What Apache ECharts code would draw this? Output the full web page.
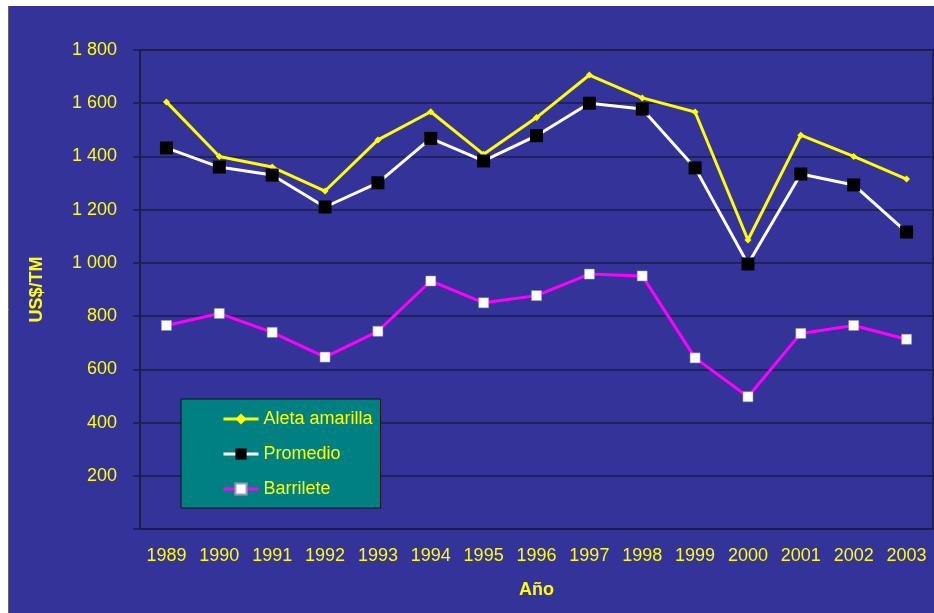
<!DOCTYPE html>
<html>
<head>
<meta charset="utf-8">
<script src="https://cdn.jsdelivr.net/npm/echarts@6/dist/echarts.min.js"></script>
<style>
  html, body { margin: 0; padding: 0; background: #fff; }
  #main { width: 934px; height: 613px; }
</style>
</head>
<body>
<div id="main"></div>
<script>
var years = ['1989', '1990', '1991', '1992', '1993', '1994', '1995', '1996',
             '1997', '1998', '1999', '2000', '2001', '2002', '2003'];
var aletaAmarilla = [1605, 1400, 1360, 1270, 1462, 1568, 1408, 1546, 1706, 1620, 1567, 1086, 1480, 1400, 1315];
var promedio = [1432, 1360, 1330, 1210, 1301, 1468, 1383, 1478, 1600, 1578, 1357, 996, 1334, 1293, 1116];
var barrilete = [765, 810, 739, 646, 743, 932, 850, 877, 958, 951, 643, 497, 735, 765, 713];

var yellow = '#ffff00';
var dark = '#1c1c48';

var myChart = echarts.init(document.getElementById('main'));

var option = {
    backgroundColor: '#ffffff',
    textStyle: { fontFamily: 'Liberation Sans, Arial, sans-serif' },
    graphic: [{
        type: 'rect',
        z: -10,
        shape: { x: 9, y: 6, width: 930, height: 612 },
        style: { fill: '#333399' }
    }, {
        type: 'line',
        z: -9,
        shape: { x1: 8.5, y1: 6, x2: 8.5, y2: 613 },
        style: { stroke: '#666', lineWidth: 1 }
    }],
    grid: {
        left: 140,
        right: 1,
        top: 50,
        bottom: 84,
        show: true,
        borderColor: dark,
        borderWidth: 1.5
    },
    legend: {
        orient: 'vertical',
        left: 181,
        top: 399,
        padding: [11, 8, 10, 41],
        itemGap: 17,
        itemWidth: 35,
        itemHeight: 14,
        backgroundColor: '#008080',
        borderColor: '#111',
        borderWidth: 1,
        lineStyle: { width: 3 },
        textStyle: { color: yellow, fontSize: 18 },
        data: ['Aleta amarilla', 'Promedio', 'Barrilete']
    },
    xAxis: {
        type: 'category',
        data: years,
        boundaryGap: true,
        name: 'Año',
        nameLocation: 'middle',
        nameGap: 52,
        nameTextStyle: { color: yellow, fontSize: 18, fontWeight: 'bold' },
        axisLine: { lineStyle: { color: dark, width: 1.5 } },
        axisTick: { length: 5, alignWithLabel: false, lineStyle: { color: dark, width: 1.5 } },
        axisLabel: { color: yellow, fontSize: 18, margin: 18, interval: 0 }
    },
    yAxis: {
        type: 'value',
        min: 0,
        max: 1800,
        interval: 200,
        name: 'US$/TM',
        nameLocation: 'middle',
        nameGap: 94,
        nameTextStyle: { color: yellow, fontSize: 18, fontWeight: 'bold' },
        axisLine: { show: true, lineStyle: { color: dark, width: 1.5 } },
        axisTick: { show: true, length: 7, lineStyle: { color: dark, width: 1.5 } },
        axisLabel: {
            color: yellow,
            fontSize: 18,
            margin: 23,
            formatter: function (v) {
                if (v == 0) return '';
                var s = String(v);
                return s.length > 3 ? s.slice(0, s.length - 3) + ' ' + s.slice(-3) : s;
            }
        },
        splitLine: { show: true, lineStyle: { color: dark, width: 1.5 } }
    },
    series: [{
        name: 'Aleta amarilla',
        type: 'line',
        data: aletaAmarilla,
        symbol: 'diamond',
        symbolSize: 7,
        itemStyle: { color: yellow },
        lineStyle: { color: yellow, width: 3 },
        z: 2
    }, {
        name: 'Promedio',
        type: 'line',
        data: promedio,
        symbol: 'rect',
        symbolSize: 13,
        itemStyle: { color: '#000000' },
        lineStyle: { color: '#ffffff', width: 3 },
        z: 3
    }, {
        name: 'Barrilete',
        type: 'line',
        data: barrilete,
        symbol: 'rect',
        symbolSize: 10,
        itemStyle: { color: '#ffffff', borderColor: '#9999bb', borderWidth: 0.5 },
        lineStyle: { color: '#ff00ff', width: 3 },
        z: 2
    }]
};

myChart.setOption(option);
</script>
</body>
</html>
